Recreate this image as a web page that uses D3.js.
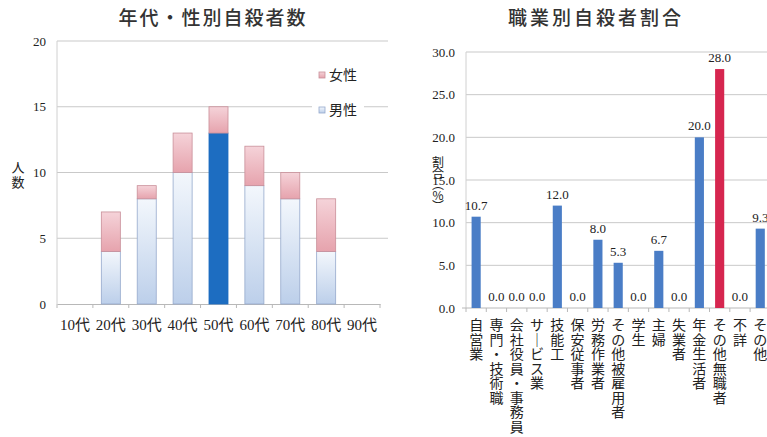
<!DOCTYPE html>
<html><head><meta charset="utf-8">
<script src="https://cdn.jsdelivr.net/npm/d3@7"></script>
<style>
html,body{margin:0;padding:0;background:#fff;}
svg{display:block;}
</style></head>
<body>
<svg id="c" width="767" height="437"></svg>
<script>
// ---- Data: left chart ----
const ages = ["10代","20代","30代","40代","50代","60代","70代","80代","90代"];
const male = [0,4,8,10,13,9,8,4,0];
const female = [0,3,1,3,2,3,2,4,0];
const leftTicks = [0,5,10,15,20];
const highlightAge = "50代";

// ---- Data: right chart ----
const jobs = ["自営業","専門・技術職","会社役員・事務員","サービス業","技能工","保安従事者","労務作業者","その他被雇用者","学生","主婦","失業者","年金生活者","その他無職者","不詳","その他"];
const ratio = [10.7,0.0,0.0,0.0,12.0,0.0,8.0,5.3,0.0,6.7,0.0,20.0,28.0,0.0,9.3];
const rightTicks = [0,5,10,15,20,25,30];
const highlightJob = "その他無職者";

const serif = "'Liberation Serif','DejaVu Serif','Noto Sans CJK JP',serif";
const jp = "'Noto Sans CJK JP','Noto Sans',sans-serif";

const svg = d3.select("#c");
const defs = svg.append("defs");
function grad(id, top, bottom){
  const g = defs.append("linearGradient").attr("id",id).attr("x1",0).attr("y1",0).attr("x2",0).attr("y2",1);
  g.append("stop").attr("offset","0%").attr("stop-color",top);
  g.append("stop").attr("offset","100%").attr("stop-color",bottom);
}
grad("gBlue","#f3f7fc","#bccfea");
grad("gPink","#f5d3d9","#e6a3ad");

// vertical text helper: one text element, one tspan per glyph row
function vText(parent, str, cx, cyFirst, step, size){
  const t = parent.append("text").attr("text-anchor","middle")
    .attr("font-family",jp).attr("font-size",size).attr("fill","#222");
  Array.from(str).forEach((ch,i)=>{
    const cy = cyFirst + i*step;
    let c = ch;
    if (ch === "(") c = "︵";
    else if (ch === ")") c = "︶";
    else if (ch === "ー") c = "｜";
    t.append("tspan").attr("x",cx).attr("y",cy).attr("dominant-baseline","central").text(c);
  });
  return t;
}

// ================= LEFT CHART =================
const L = {x0:57, x1:380, y0:304, y1:41};
const xL = d3.scaleBand().domain(ages).range([L.x0,L.x1]).paddingInner(0.47).paddingOuter(0.235);
const yL = d3.scaleLinear().domain([0,20]).range([L.y0,L.y1]);

svg.append("text").attr("x",213).attr("y",25).attr("text-anchor","middle")
  .attr("font-family",jp).attr("font-size",19).attr("font-weight",500).attr("letter-spacing",2)
  .attr("fill","#333").text("年代・性別自殺者数");

const gL = svg.append("g");
gL.selectAll("line.grid").data(leftTicks.filter(d=>d>0)).enter().append("line")
  .attr("x1",L.x0).attr("x2",L.x1+8).attr("y1",d=>yL(d)).attr("y2",d=>yL(d))
  .attr("stroke","#c9c9c9").attr("stroke-width",1);
gL.append("line").attr("x1",L.x0).attr("x2",L.x0).attr("y1",L.y1).attr("y2",L.y0).attr("stroke","#d0d0d0");
const axL = d3.axisBottom(xL).tickSize(0).tickFormat("");
gL.append("g").attr("transform",`translate(0,${L.y0})`).call(axL)
  .call(g=>g.select(".domain").attr("stroke","#b8b8b8"));
gL.selectAll("line.bt").data(d3.range(ages.length+1)).enter().append("line")
  .attr("x1",i=>L.x0+i*xL.step()).attr("x2",i=>L.x0+i*xL.step())
  .attr("y1",L.y0).attr("y2",L.y0+4).attr("stroke","#b8b8b8");
gL.selectAll("text.yt").data(leftTicks).enter().append("text")
  .attr("x",46).attr("y",d=>yL(d)).attr("dy","0.35em").attr("text-anchor","end")
  .attr("font-family",serif).attr("font-size",13).attr("fill","#222").text(d=>d);
gL.selectAll("text.xt").data(ages).enter().append("text")
  .attr("x",d=>xL(d)+xL.bandwidth()/2).attr("y",330).attr("text-anchor","middle")
  .attr("font-family",serif).attr("font-size",15).attr("fill","#222").text(d=>d);
const stackData = ages.map((a,i)=>({age:a, m:male[i], f:female[i]}));
gL.selectAll("rect.m").data(stackData.filter(d=>d.m>0)).enter().append("rect")
  .attr("x",d=>xL(d.age)).attr("width",xL.bandwidth())
  .attr("y",d=>yL(d.m)).attr("height",d=>yL(0)-yL(d.m))
  .attr("fill",d=>d.age===highlightAge?"#1d6dc1":"url(#gBlue)")
  .attr("stroke",d=>d.age===highlightAge?"#1d6dc1":"#95a9cc").attr("stroke-width",0.8);
gL.selectAll("rect.f").data(stackData.filter(d=>d.f>0)).enter().append("rect")
  .attr("x",d=>xL(d.age)).attr("width",xL.bandwidth())
  .attr("y",d=>yL(d.m+d.f)).attr("height",d=>yL(d.m)-yL(d.m+d.f))
  .attr("fill","url(#gPink)").attr("stroke","#c98f99").attr("stroke-width",0.8);
const legItems = [{k:"女性",fill:"url(#gPink)",stroke:"#c98f99",y:75},{k:"男性",fill:"url(#gBlue)",stroke:"#95a9cc",y:110}];
const lg = gL.selectAll("g.leg").data(legItems).enter().append("g");
lg.append("rect").attr("x",312).attr("y",d=>d.y-10).attr("width",52).attr("height",20).attr("fill","#fff");
lg.append("rect").attr("x",319).attr("y",d=>d.y-3).attr("width",6).attr("height",6)
  .attr("fill",d=>d.fill).attr("stroke",d=>d.stroke).attr("stroke-width",0.8);
lg.append("text").attr("x",329).attr("y",d=>d.y).attr("dy","0.36em")
  .attr("font-family",jp).attr("font-size",14).attr("fill","#222").text(d=>d.k);
vText(svg, "人数", 18, 166, 15, 13);

// ================= RIGHT CHART =================
const R = {x0:466, x1:770.4, y0:308, y1:52};
const xR = d3.scaleBand().domain(jobs).range([R.x0,R.x1]).paddingInner(0.55).paddingOuter(0.275);
const yR = d3.scaleLinear().domain([0,30]).range([R.y0,R.y1]);

svg.append("text").attr("x",596).attr("y",25).attr("text-anchor","middle")
  .attr("font-family",jp).attr("font-size",19).attr("font-weight",500).attr("letter-spacing",3)
  .attr("fill","#333").text("職業別自殺者割合");

const gR = svg.append("g");
gR.selectAll("line.grid").data(rightTicks.filter(d=>d>0)).enter().append("line")
  .attr("x1",R.x0).attr("x2",767).attr("y1",d=>yR(d)).attr("y2",d=>yR(d))
  .attr("stroke","#c9c9c9").attr("stroke-width",1);
gR.append("line").attr("x1",R.x0).attr("x2",R.x0).attr("y1",R.y1).attr("y2",R.y0).attr("stroke","#d0d0d0");
gR.append("line").attr("x1",R.x0-4).attr("x2",767).attr("y1",R.y0).attr("y2",R.y0).attr("stroke","#b8b8b8");
gR.selectAll("line.bt").data(d3.range(jobs.length+1)).enter().append("line")
  .attr("x1",i=>R.x0+i*xR.step()).attr("x2",i=>R.x0+i*xR.step())
  .attr("y1",R.y0).attr("y2",R.y0+4).attr("stroke","#b8b8b8");
gR.selectAll("text.yt").data(rightTicks).enter().append("text")
  .attr("x",455).attr("y",d=>yR(d)).attr("dy","0.35em").attr("text-anchor","end")
  .attr("font-family",serif).attr("font-size",13).attr("fill","#222").text(d=>d3.format(".1f")(d));
const rData = jobs.map((j,i)=>({job:j, v:ratio[i]}));
gR.selectAll("rect.b").data(rData).enter().append("rect")
  .attr("x",d=>xR(d.job)).attr("width",xR.bandwidth())
  .attr("y",d=>yR(d.v)).attr("height",d=>yR(0)-yR(d.v))
  .attr("fill",d=>d.job===highlightJob?"#d6264f":"#4a7dc6");
gR.selectAll("text.v").data(rData).enter().append("text")
  .attr("x",d=>xR(d.job)+xR.bandwidth()/2).attr("y",d=>yR(d.v)-7).attr("text-anchor","middle")
  .attr("font-family",serif).attr("font-size",13).attr("fill","#222").text(d=>d3.format(".1f")(d.v));
jobs.forEach(j=>{
  vText(gR, j, xR(j)+xR.bandwidth()/2, 324, 14.5, 14);
});
vText(svg, "割合(%)", 438, 161, 11, 12);
</script>
</body></html>
